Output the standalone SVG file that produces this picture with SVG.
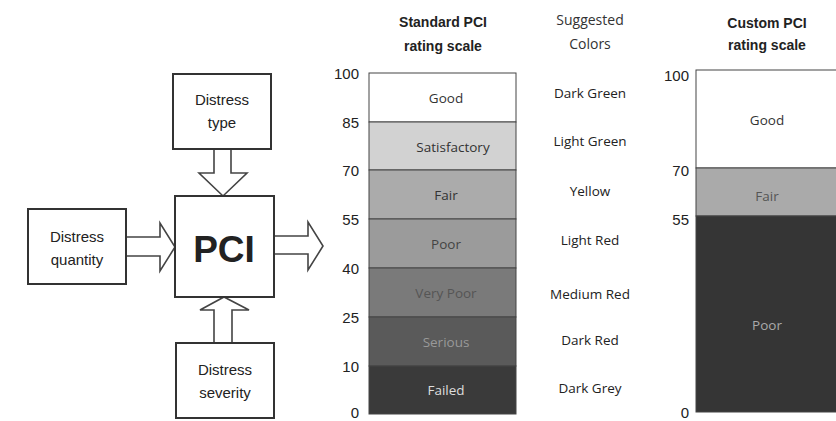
<svg xmlns="http://www.w3.org/2000/svg" width="836" height="421" viewBox="0 0 836 421">
<style>
.box{fill:#fff;stroke:#333;stroke-width:2}
.arr{fill:#fff;stroke:#444;stroke-width:1.6;stroke-linejoin:miter}
.lt{font-family:"Liberation Sans",Arial,sans-serif;font-size:15px;fill:#222;text-anchor:middle}
.hd{font-family:"Liberation Sans",Arial,sans-serif;font-size:14px;fill:#222;text-anchor:middle;font-weight:bold}
.hs{font-family:"Open Sans","Noto Sans",sans-serif;font-size:14px;fill:#333;text-anchor:middle}
.num{font-family:"Liberation Sans",Arial,sans-serif;font-size:15px;fill:#222;text-anchor:end}
.bl{font-family:"Open Sans","Noto Sans",sans-serif;font-size:13.5px;text-anchor:middle}
.sc{font-family:"Open Sans","Noto Sans",sans-serif;font-size:13.5px;fill:#222;text-anchor:middle}
.band{stroke:#444;stroke-width:1}
</style>
<rect x="0" y="0" width="836" height="421" fill="#fff"/>
<g id="connectors">
<path class="arr" d="M214,149 L231,149 L231,173 L247,173 L223,196 L199,173 L214,173 Z"/>
<path class="arr" d="M126,237 L160,237 L160,223 L175,247 L160,271 L160,256 L126,256 Z"/>
<path class="arr" d="M274,236 L308,236 L308,222 L323,246 L308,270 L308,254 L274,254 Z"/>
<path class="arr" d="M214,343 L232,343 L232,310 L249,310 L224,297 L200,310 L214,310 Z"/>
</g>
<g id="distress-type"><rect class="box" x="173" y="74" width="98" height="75"/><text class="lt" x="222" y="105">Distress</text><text class="lt" x="222" y="128">type</text></g>
<g id="distress-quantity"><rect class="box" x="28" y="209" width="98" height="75"/><text class="lt" x="77" y="242">Distress</text><text class="lt" x="77" y="265">quantity</text></g>
<g id="pci"><rect class="box" x="175" y="196" width="99" height="101"/><text x="224" y="262" font-family="Liberation Sans,Arial,sans-serif" font-size="37" font-weight="bold" fill="#222" text-anchor="middle">PCI</text></g>
<g id="distress-severity"><rect class="box" x="176" y="343" width="98" height="75"/><text class="lt" x="225" y="375">Distress</text><text class="lt" x="225" y="398">severity</text></g>
<g id="standard-scale">
<text class="hd" x="443" y="27">Standard PCI</text>
<text class="hd" x="443" y="51">rating scale</text>
<rect class="band" x="369" y="73" width="147" height="49" fill="#fff"/>
<rect class="band" x="369" y="122" width="147" height="48" fill="#d2d2d2"/>
<rect class="band" x="369" y="170" width="147" height="49" fill="#ababab"/>
<rect class="band" x="369" y="219" width="147" height="49" fill="#9b9b9b"/>
<rect class="band" x="369" y="268" width="147" height="49" fill="#7a7a7a"/>
<rect class="band" x="369" y="317" width="147" height="49" fill="#5a5a5a"/>
<rect class="band" x="369" y="366" width="147" height="48" fill="#3a3a3a"/>
<text class="bl" x="446" y="103" fill="#333">Good</text>
<text class="bl" x="453" y="152" fill="#333">Satisfactory</text>
<text class="bl" x="446" y="200" fill="#333">Fair</text>
<text class="bl" x="446" y="249" fill="#444">Poor</text>
<text class="bl" x="446" y="298" fill="#555">Very Poor</text>
<text class="bl" x="446" y="347" fill="#999">Serious</text>
<text class="bl" x="446" y="395" fill="#ddd">Failed</text>
<text class="num" x="359" y="79">100</text>
<text class="num" x="359" y="128">85</text>
<text class="num" x="359" y="176">70</text>
<text class="num" x="359" y="225">55</text>
<text class="num" x="359" y="274">40</text>
<text class="num" x="359" y="323">25</text>
<text class="num" x="359" y="372">10</text>
<text class="num" x="359" y="418">0</text>
</g>
<g id="suggested-colors">
<text class="hs" x="590" y="25">Suggested</text>
<text class="hs" x="590" y="49">Colors</text>
<text class="sc" x="590" y="98">Dark Green</text>
<text class="sc" x="590" y="146">Light Green</text>
<text class="sc" x="590" y="196">Yellow</text>
<text class="sc" x="590" y="245">Light Red</text>
<text class="sc" x="590" y="299">Medium Red</text>
<text class="sc" x="590" y="345">Dark Red</text>
<text class="sc" x="590" y="393">Dark Grey</text>
</g>
<g id="custom-scale">
<text class="hd" x="767" y="28">Custom PCI</text>
<text class="hd" x="767" y="50">rating scale</text>
<rect class="band" x="696" y="70" width="145" height="98" fill="#fff"/>
<rect class="band" x="696" y="168" width="145" height="48" fill="#aaaaaa"/>
<rect class="band" x="696" y="216" width="145" height="196" fill="#353535"/>
<text class="bl" x="767" y="125" fill="#333">Good</text>
<text class="bl" x="767" y="201" fill="#555">Fair</text>
<text class="bl" x="767" y="330" fill="#aaa">Poor</text>
<text class="num" x="689" y="81">100</text>
<text class="num" x="689" y="176">70</text>
<text class="num" x="689" y="225">55</text>
<text class="num" x="689" y="418">0</text>
</g>
</svg>
